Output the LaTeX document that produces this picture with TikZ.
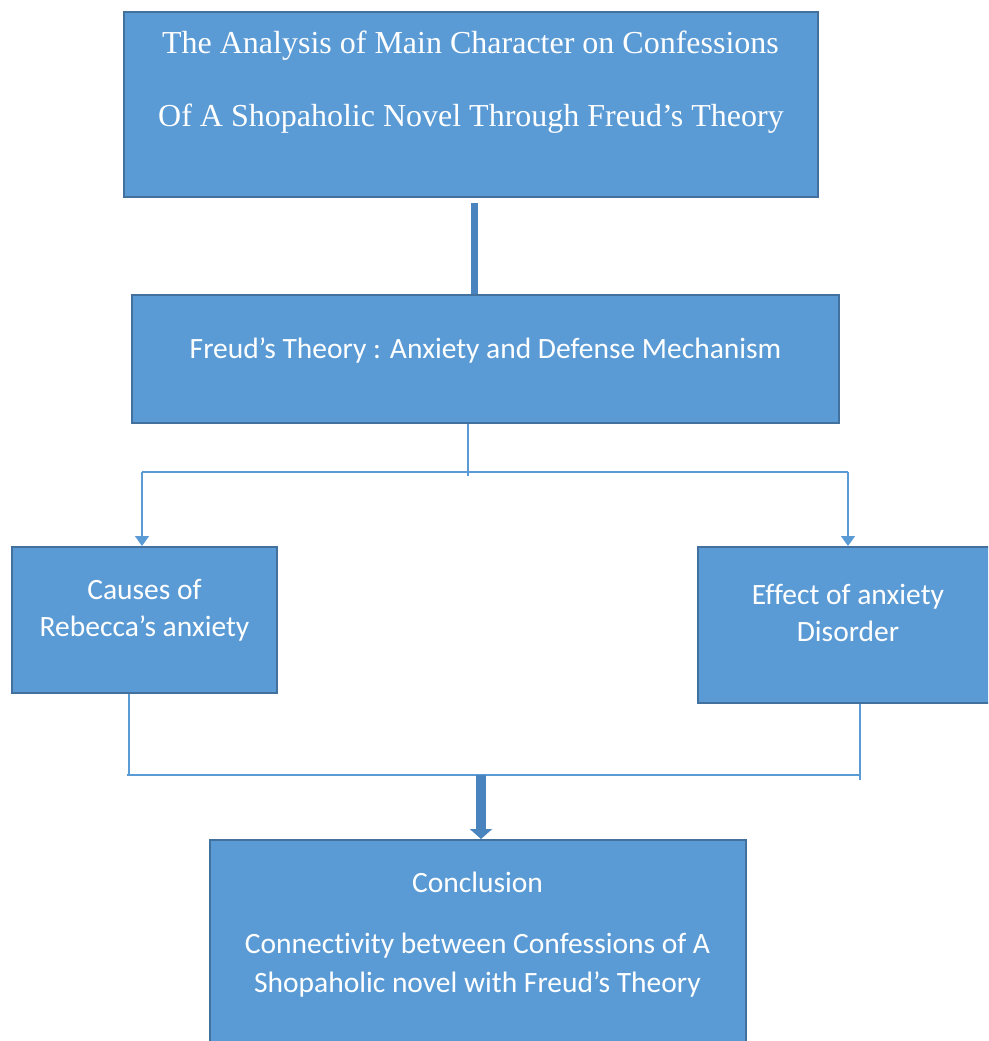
\documentclass[tikz,border=0pt]{standalone}
\usepackage{fontspec}
\setmainfont{Carlito}[Ligatures=NoCommon]
\newfontfamily\timesfont{Liberation Serif}
\usepackage{xcolor}
\definecolor{BoxFill}{RGB}{91,155,213}
\definecolor{BoxLine}{RGB}{65,113,156}
\definecolor{BarFill}{RGB}{74,132,190}
\usetikzlibrary{arrows.meta}
\tikzstyle{Box}=[rectangle,draw=BoxLine,fill=BoxFill,line width=2pt,inner sep=0pt]
\tikzstyle{TitleText}=[text=white,anchor=base,inner sep=0pt,font=\timesfont\fontsize{32}{38}\selectfont]
\tikzstyle{BoxText}=[text=white,anchor=base,inner sep=0pt,font=\fontsize{29.5}{35}\selectfont]
\tikzstyle{Edge}=[draw=BoxFill,line width=1.5pt]
\tikzstyle{EdgeArrow}=[Edge,-{Triangle[length=10pt,width=14pt]}]
\tikzstyle{Bar}=[draw=BarFill,line width=7pt]
\tikzstyle{BlockArrow}=[draw=BarFill,line width=10pt,-{Triangle[length=10pt,width=22pt]}]

\begin{document}
\begin{tikzpicture}[x=1pt,y=1pt]
        \useasboundingbox(0,0)rectangle(988,-1041);
        \clip(0,0)rectangle(988,-1041);
        % boxes
        \node[Box,minimum width=694pt,minimum height=185pt](title)at(471,-104.5){};
        \node[Box,minimum width=707pt,minimum height=128pt](theory)at(485.5,-359){};
        \node[Box,minimum width=265pt,minimum height=146pt](causes)at(144.5,-620){};
        \node[Box,minimum width=300pt,minimum height=156pt](effect)at(848,-625){};
        \node[Box,minimum width=536pt,minimum height=220pt](concl)at(478,-950){};
        % texts
        \node[TitleText](t1)at(470.5,-53){The Analysis of Main Character on Confessions};
        \node[TitleText](t2)at(471,-126){Of A Shopaholic Novel Through Freud’s Theory};
        \node[BoxText](t3)at(485.5,-358){Freud’s Theory : Anxiety and Defense Mechanism};
        \node[BoxText](t4)at(144.5,-599){Causes of};
        \node[BoxText](t5)at(144.5,-636){Rebecca’s anxiety};
        \node[BoxText](t6)at(848,-604){Effect of anxiety};
        \node[BoxText](t7)at(848,-641){Disorder};
        \node[BoxText](t8)at(477.5,-892){Conclusion};
        \node[BoxText](t9)at(477.5,-953){Connectivity between Confessions of A};
        \node[BoxText](t10)at(477.5,-992){Shopaholic novel with Freud’s Theory};
        % junctions
        \coordinate(bartop)at(474.5,-203);
        \coordinate(split)at(468,-476);
        \coordinate(lsplit)at(142,-472);
        \coordinate(rsplit)at(848,-472);
        \coordinate(ljoin)at(129,-775);
        \coordinate(rjoin)at(860,-780);
        \coordinate(jleft)at(127,-775);
        \coordinate(jright)at(860,-775);
        \coordinate(jmid)at(481,-775);
        % connectors
        \draw[Bar](bartop)--(bartop|-theory.north);
        \draw[Edge](theory.south-|split)--(split);
        \draw[Edge](lsplit)--(rsplit);
        \draw[EdgeArrow](lsplit)--(lsplit|-causes.north);
        \draw[EdgeArrow](rsplit)--(rsplit|-effect.north);
        \draw[Edge](causes.south-|ljoin)--(ljoin);
        \draw[Edge](effect.south-|rjoin)--(rjoin);
        \draw[Edge](jleft)--(jright);
        \draw[BlockArrow](jmid)--(jmid|-concl.north);
    \end{tikzpicture}
\end{document}
